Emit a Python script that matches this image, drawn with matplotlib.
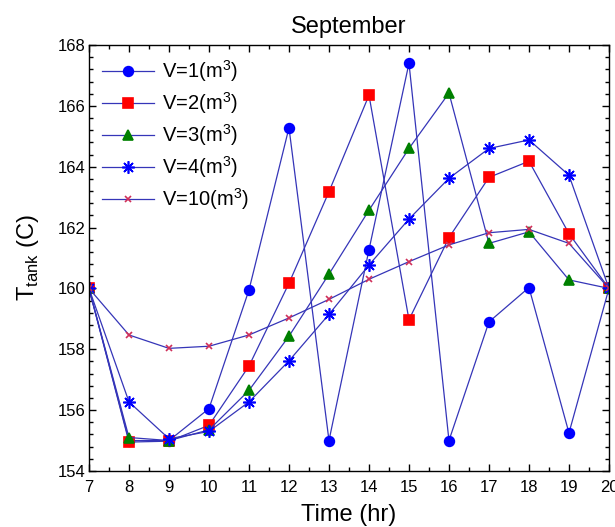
import numpy as np
import matplotlib
matplotlib.use("Agg")
import matplotlib.pyplot as plt
from matplotlib.ticker import MultipleLocator

plt.rcParams['font.family'] = ['Liberation Sans', 'DejaVu Sans']
plt.rcParams['mathtext.fontset'] = 'custom'
plt.rcParams['mathtext.rm'] = 'Liberation Sans'

# hour of day
hours = np.arange(7, 21)

# tank temperature for each storage volume
t_v1 = [160, 155.0, 155.0, 156.05, 159.95, 165.28, 155.0, 161.27, 167.4, 155.0, 158.9, 160.03, 155.25, 160]
t_v2 = [160, 154.95, 154.98, 155.5, 157.45, 160.17, 163.18, 166.35, 158.97, 161.67, 163.65, 164.18, 161.8, 160]
t_v3 = [160, 155.1, 155.0, 155.35, 156.65, 158.43, 160.47, 162.57, 164.6, 166.42, 161.48, 161.86, 160.28, 160]
t_v4 = [160, 156.27, 155.06, 155.3, 156.27, 157.62, 159.15, 160.77, 162.28, 163.62, 164.6, 164.88, 163.72, 160]
t_v10 = [160, 158.47, 158.03, 158.1, 158.47, 159.03, 159.64, 160.3, 160.88, 161.43, 161.83, 161.94, 161.48, 160]

series = [
    (t_v1, 'o', 'blue', 7, r'V=1(m$^3$)'),
    (t_v2, 's', 'red', 7, r'V=2(m$^3$)'),
    (t_v3, '^', 'green', 7.5, r'V=3(m$^3$)'),
    (t_v4, (8, 2, 0), 'blue', 9, r'V=4(m$^3$)'),
    (t_v10, 'x', '#d0305a', 4.5, r'V=10(m$^3$)'),
]

fig = plt.figure(figsize=(6.15, 5.27), dpi=100)
ax = fig.add_axes([0.1447, 0.1063, 0.8455, 0.8083])

line_col = '#3535b8'
for vals, mk, mc, ms, lab in series:
    ax.plot(hours, vals, color=line_col, lw=0.9, marker=mk, markersize=ms,
            markerfacecolor=mc, markeredgecolor=mc, markeredgewidth=1.2,
            label=lab)

ax.set_xlim(7, 20)
ax.set_ylim(154, 168)
ax.xaxis.set_major_locator(MultipleLocator(1))
ax.xaxis.set_minor_locator(MultipleLocator(0.5))
ax.yaxis.set_major_locator(MultipleLocator(2))
ax.yaxis.set_minor_locator(MultipleLocator(0.4))
ax.tick_params(which='both', direction='in', top=True, right=True,
               labelsize=12, width=1)
ax.tick_params(which='major', length=5)
ax.tick_params(which='minor', length=3)
ax.tick_params(axis='x', which='major', pad=6.5)
ax.tick_params(axis='y', which='major', pad=2.5)
for sp in ax.spines.values():
    sp.set_linewidth(1)

ax.set_title('September', fontsize=17, pad=9)
ax.set_xlabel('Time (hr)', fontsize=17, labelpad=6.5)
ax.set_ylabel(r'T$_{\mathrm{tank}}$ (C)', fontsize=17, labelpad=12)

ax.legend(loc='upper left', frameon=False, fontsize=14.5, handlelength=2.6,
          labelspacing=0.3, borderaxespad=0.25, handletextpad=0.4)

fig.savefig('out.png', dpi=100)
